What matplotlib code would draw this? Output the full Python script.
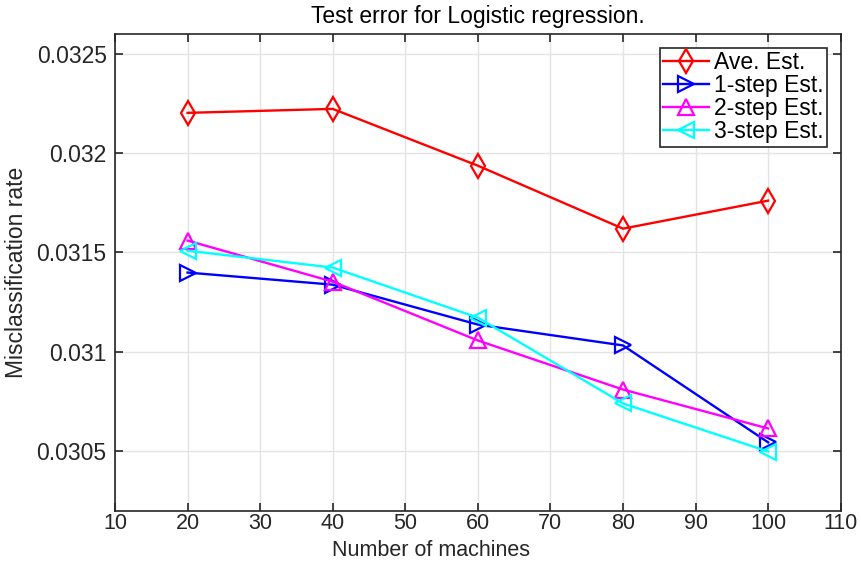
import matplotlib
matplotlib.use("Agg")
import matplotlib.pyplot as plt

machines = [20, 40, 60, 80, 100]
ave_est = [0.032203, 0.032223, 0.031937, 0.031620, 0.031761]
step1_est = [0.031399, 0.031338, 0.031137, 0.031032, 0.030544]
step2_est = [0.031560, 0.031353, 0.031057, 0.030810, 0.030614]
step3_est = [0.031509, 0.031424, 0.031172, 0.030740, 0.030498]

plt.rcParams['font.family'] = ['Liberation Sans', 'DejaVu Sans']
fs = 16.5
fx = 15.5
dark = '#262626'

fig = plt.figure(figsize=(8.62, 5.62), dpi=100)
ax = fig.add_axes([0.1334, 0.0913, 0.8419, 0.8482])

style = dict(lw=1.7, mew=1.6, mfc='none')
ax.plot(machines, ave_est, color='#ff0000', marker='d', ms=12, label='Ave. Est.', **style)
ax.plot(machines, step1_est, color='#0000ff', marker='>', ms=11, label='1-step Est.', **style)
ax.plot(machines, step2_est, color='#ff00ff', marker='^', ms=11, label='2-step Est.', **style)
ax.plot(machines, step3_est, color='#00ffff', marker='<', ms=11, label='3-step Est.', **style)

ax.set_xlim(10, 110)
ax.set_ylim(0.0302, 0.0326)
ax.set_xticks(range(10, 111, 10))
ax.set_yticks([0.0305, 0.031, 0.0315, 0.032, 0.0325])
ax.set_yticklabels(['0.0305', '0.031', '0.0315', '0.032', '0.0325'])

ax.grid(True, color='#e3e3e3', lw=1.0)
ax.set_axisbelow(True)
for s in ax.spines.values():
    s.set_color(dark)
    s.set_linewidth(1.2)
ax.tick_params(direction='in', length=6, width=1.2, colors=dark, labelsize=fs,
               top=True, right=True, pad=6)
ax.tick_params(axis='x', pad=2, labelsize=fx)

ax.set_xlabel('Number of machines', fontsize=fx, color=dark)
ax.xaxis.set_label_coords(0.5, 0.001, transform=fig.transFigure)
ax.xaxis.label.set_va('bottom')
ax.set_ylabel('Misclassification rate', fontsize=fs, color=dark, labelpad=6)
ax.set_title('Test error for Logistic regression.', fontsize=fs, pad=8)

leg = ax.legend(loc='upper right', fontsize=fs, frameon=True, fancybox=False,
                edgecolor=dark, borderpad=0.15, labelspacing=0.0,
                handlelength=2.0, handletextpad=0.2, borderaxespad=0.6,
                framealpha=1.0)
leg.get_frame().set_linewidth(1.2)

fig.savefig('out.png', dpi=100)
